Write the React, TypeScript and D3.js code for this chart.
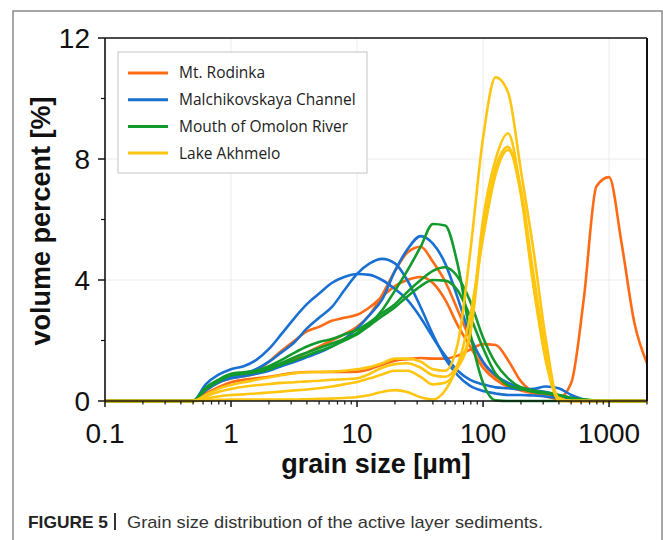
import React from "react";
import * as d3 from "d3";

const sizes = [0.1, 0.5, 0.63, 0.79, 1, 1.26, 1.58, 2, 2.5, 3.2, 4, 5, 6.3, 7.9, 10, 12.6, 15.8, 20, 25, 32, 40, 50, 63, 79, 100, 126, 158, 200, 251, 316, 398, 501, 631, 794, 1000, 1259, 1585, 2000];

const rodinka1 = [0, 0, 0.35, 0.6, 0.75, 0.82, 0.9, 1.05, 1.2, 1.4, 1.6, 1.8, 2.0, 2.2, 2.45, 2.85, 3.5, 4.3, 4.9, 5.1, 4.6, 3.95, 3.0, 2.05, 1.25, 0.8, 0.58, 0.4, 0.3, 0.22, 0.08, 0, 0, 0, 0, 0, 0, 0];
const rodinka2 = [0, 0, 0.4, 0.65, 0.8, 0.88, 1.0, 1.3, 1.65, 2.0, 2.3, 2.45, 2.65, 2.75, 2.85, 3.1, 3.45, 3.8, 4.0, 4.1, 3.9, 3.35, 2.5, 1.8, 1.1, 0.7, 0.47, 0.35, 0.25, 0.15, 0.05, 0, 0, 0, 0, 0, 0, 0];
const rodinka3 = [0, 0, 0.25, 0.45, 0.62, 0.7, 0.75, 0.8, 0.87, 0.93, 0.96, 0.96, 0.96, 0.96, 0.97, 1.05, 1.2, 1.33, 1.38, 1.42, 1.4, 1.4, 1.5, 1.7, 1.88, 1.85, 1.35, 0.65, 0.32, 0.25, 0.1, 0.6, 3.4, 7.1, 7.4, 5.2, 2.6, 1.25];

const malchik1 = [0, 0, 0.55, 0.86, 1.05, 1.15, 1.35, 1.72, 2.2, 2.75, 3.2, 3.55, 3.9, 4.1, 4.2, 4.17, 4.0, 3.7, 3.35, 2.75, 2.1, 1.5, 1.0, 0.7, 0.55, 0.45, 0.42, 0.38, 0.4, 0.48, 0.42, 0.2, 0.05, 0, 0, 0, 0, 0];
const malchik2 = [0, 0, 0.4, 0.65, 0.8, 0.9, 1.05, 1.3, 1.6, 1.95, 2.4, 2.75, 3.1, 3.65, 4.2, 4.55, 4.7, 4.55, 4.0, 3.1, 2.2, 1.4, 0.85, 0.5, 0.33, 0.25, 0.2, 0.2, 0.18, 0.15, 0.1, 0.05, 0, 0, 0, 0, 0, 0];
const malchik3 = [0, 0, 0.35, 0.6, 0.75, 0.82, 0.9, 1.0, 1.15, 1.3, 1.45, 1.6, 1.8, 2.05, 2.4, 2.85, 3.35, 4.3, 5.0, 5.45, 5.2, 4.55, 3.4, 2.15, 1.3, 0.85, 0.6, 0.45, 0.36, 0.3, 0.2, 0.1, 0.02, 0, 0, 0, 0, 0];

const omolon1 = [0, 0, 0.45, 0.7, 0.9, 0.95, 1.0, 1.1, 1.25, 1.45, 1.6, 1.75, 1.9, 2.05, 2.25, 2.55, 3.0, 3.65, 4.3, 5.1, 5.85, 5.8, 4.5, 2.25, 0.6, 0.02, 0, 0, 0, 0, 0, 0, 0, 0, 0, 0, 0, 0];
const omolon2 = [0, 0, 0.4, 0.65, 0.85, 0.92, 1.0, 1.15, 1.35, 1.6, 1.8, 1.95, 2.05, 2.2, 2.35, 2.6, 2.9, 3.2, 3.6, 4.0, 4.3, 4.42, 4.1, 3.3, 2.1, 1.25, 0.75, 0.45, 0.35, 0.28, 0.2, 0.1, 0.05, 0.02, 0, 0, 0, 0];
const omolon3 = [0, 0, 0.4, 0.65, 0.85, 0.9, 0.95, 1.05, 1.2, 1.35, 1.5, 1.65, 1.8, 2.0, 2.2, 2.5, 2.8, 3.1, 3.45, 3.8, 4.0, 3.98, 3.65, 2.8, 1.75, 0.9, 0.52, 0.4, 0.3, 0.25, 0.18, 0.1, 0.05, 0.02, 0, 0, 0, 0];

const akhmelo1 = [0, 0, 0.2, 0.4, 0.53, 0.62, 0.7, 0.78, 0.85, 0.92, 0.95, 0.96, 0.97, 1.0, 1.05, 1.12, 1.25, 1.4, 1.4, 1.3, 1.05, 1.0, 1.9, 4.9, 8.7, 10.7, 10.2, 7.6, 5.0, 2.0, 0, 0, 0, 0, 0, 0, 0, 0];
const akhmelo2 = [0, 0, 0.15, 0.3, 0.4, 0.47, 0.52, 0.56, 0.6, 0.62, 0.65, 0.67, 0.7, 0.72, 0.75, 0.9, 1.1, 1.22, 1.25, 1.1, 0.85, 0.8, 1.2, 2.3, 6.0, 8.0, 8.85, 6.9, 3.9, 1.35, 0.1, 0, 0, 0, 0, 0, 0, 0];
const akhmelo3 = [0, 0, 0.08, 0.15, 0.2, 0.22, 0.25, 0.28, 0.31, 0.35, 0.38, 0.42, 0.48, 0.55, 0.63, 0.75, 0.88, 1.0, 1.0, 0.8, 0.55, 0.6, 1.1, 2.2, 5.6, 7.7, 8.4, 6.8, 3.8, 1.3, 0.05, 0, 0, 0, 0, 0, 0, 0];
const akhmelo4 = [0, 0, 0.02, 0.04, 0.05, 0.05, 0.05, 0.05, 0.05, 0.05, 0.06, 0.07, 0.08, 0.1, 0.13, 0.2, 0.3, 0.36, 0.3, 0.12, 0.05, 0.35, 1.2, 2.8, 5.4, 7.5, 8.3, 7.0, 4.2, 1.6, 0.1, 0, 0, 0, 0, 0, 0, 0];

const siteNames = ["Mt. Rodinka", "Malchikovskaya Channel", "Mouth of Omolon River", "Lake Akhmelo"];
const siteColors = ["#FF6A14", "#1A70D2", "#139A2C", "#FFC510"];
const siteSeries = [
  [rodinka1, rodinka2, rodinka3],
  [malchik1, malchik2, malchik3],
  [omolon1, omolon2, omolon3],
  [akhmelo1, akhmelo2, akhmelo3, akhmelo4],
];

const xTicks = [0.1, 1, 10, 100, 1000];
const xTickLabels = ["0.1", "1", "10", "100", "1000"];
const yTicks = [0, 4, 8, 12];
const yMinorTicks = [2, 6, 10];

export default function App() {
  const L = 105, R = 647, T = 38, B = 401;
  const x = d3.scaleLog().domain([0.1, 2000]).range([L, R]);
  const y = d3.scaleLinear().domain([0, 12]).range([B, T]);
  const line = d3
    .line<number>()
    .x((_, i) => x(sizes[i]))
    .y((v) => y(v))
    .curve(d3.curveMonotoneX);

  const minorX: number[] = [];
  [0.1, 1, 10, 100, 1000].forEach((dec) => {
    for (let k = 2; k <= 9; k++) {
      const v = dec * k;
      if (v <= 2000) minorX.push(v);
    }
  });

  const font = "'Liberation Sans', Arial, sans-serif";

  return (
    <svg
      width={663}
      height={540}
      style={{ position: "absolute", left: 0, top: 0, background: "#fff" }}
    >
      <rect x={0} y={0} width={663} height={540} fill="#fff" />
      {/* outer figure frame */}
      <rect x={13} y={11} width={649} height={600} fill="none" stroke="#8a8a8a" strokeWidth={1.5} />

      {/* gridlines */}
      {xTicks.slice(1).map((t) => (
        <line key={"gx" + t} x1={x(t)} x2={x(t)} y1={T} y2={B} stroke="#ececec" strokeWidth={1} />
      ))}
      {[4, 8].map((t) => (
        <line key={"gy" + t} x1={L} x2={R} y1={y(t)} y2={y(t)} stroke="#ececec" strokeWidth={1} />
      ))}

      {/* curves */}
      {siteSeries.map((group, gi) =>
        group.map((vals, si) => (
          <path
            key={gi + "-" + si}
            d={line(vals) || ""}
            fill="none"
            stroke={siteColors[gi]}
            strokeWidth={2.6}
            strokeLinejoin="round"
          />
        ))
      )}

      {/* plot frame */}
      <line x1={L} x2={R} y1={T} y2={T} stroke="#111" strokeWidth={1.6} />
      <line x1={R} x2={R} y1={T} y2={B} stroke="#111" strokeWidth={2} />
      <line x1={L} x2={L} y1={T} y2={B} stroke="#111" strokeWidth={1.6} />
      <line x1={L} x2={R} y1={B} y2={B} stroke="#111" strokeWidth={1.6} />

      {/* y ticks */}
      {yTicks.map((t) => (
        <g key={"yt" + t}>
          <line x1={L - 7} x2={L} y1={y(t)} y2={y(t)} stroke="#111" strokeWidth={1.5} />
          <text x={90} y={y(t)} dy="0.36em" textAnchor="end" fontFamily={font} fontSize={28} fill="#111">
            {t}
          </text>
        </g>
      ))}
      {yMinorTicks.map((t) => (
        <line key={"ym" + t} x1={L - 4} x2={L} y1={y(t)} y2={y(t)} stroke="#111" strokeWidth={1.2} />
      ))}

      {/* x ticks */}
      {xTicks.map((t, i) => (
        <g key={"xt" + t}>
          <line x1={x(t)} x2={x(t)} y1={B} y2={B + 6} stroke="#111" strokeWidth={1.5} />
          <text x={x(t)} y={443} textAnchor="middle" fontFamily={font} fontSize={28} fill="#111">
            {xTickLabels[i]}
          </text>
        </g>
      ))}
      {minorX.map((t) => (
        <line key={"xm" + t} x1={x(t)} x2={x(t)} y1={B} y2={B + 3.5} stroke="#111" strokeWidth={1.2} />
      ))}

      {/* axis titles */}
      <text x={376} y={473} textAnchor="middle" fontFamily={font} fontWeight="bold" fontSize={27} fill="#111">
        grain size [µm]
      </text>
      <text
        transform="translate(50,221) rotate(-90)"
        textAnchor="middle"
        fontFamily={font}
        fontWeight="bold"
        fontSize={27}
        fill="#111"
      >
        volume percent [%]
      </text>

      {/* legend */}
      <rect x={118} y={52} width={249} height={121} fill="#fff" stroke="#c4c4c4" strokeWidth={1} />
      {siteNames.map((n, i) => (
        <g key={"lg" + i}>
          <line x1={128} x2={168} y1={73 + i * 26.7} y2={73 + i * 26.7} stroke={siteColors[i]} strokeWidth={3} />
          <text x={179} y={73 + i * 26.7} dy="0.35em" fontFamily="'Open Sans', sans-serif" fontSize={15.5} fill="#222">
            {n}
          </text>
        </g>
      ))}

      {/* caption */}
      <text x={28} y={528} fontFamily={font} fontWeight="bold" fontSize={17} fill="#222" textLength={80} lengthAdjust="spacingAndGlyphs">
        FIGURE 5
      </text>
      <rect x={114} y={513} width={2} height={17} fill="#333" />
      <text x={127} y={528} fontFamily={font} fontSize={17} fill="#333" textLength={416} lengthAdjust="spacingAndGlyphs">
        Grain size distribution of the active layer sediments.
      </text>
    </svg>
  );
}
